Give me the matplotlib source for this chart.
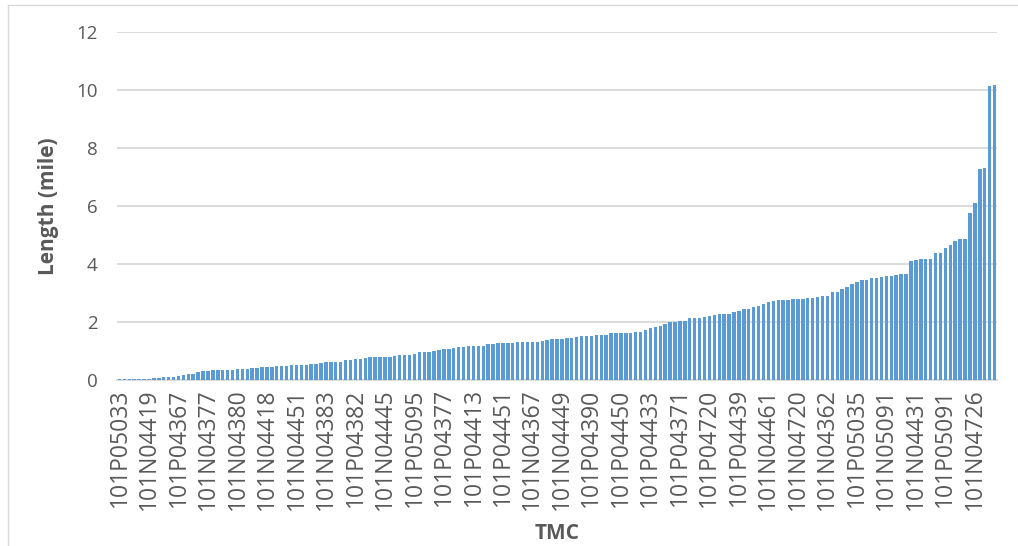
import numpy as np
import matplotlib
matplotlib.use("Agg")
import matplotlib.pyplot as plt
from matplotlib.lines import Line2D

# Segment lengths (mile), sorted ascending, one bar per TMC
LENGTHS = [
    0.02, 0.02, 0.02, 0.03, 0.03, 0.03, 0.05, 0.08, 0.08, 0.09,
    0.10, 0.10, 0.14, 0.16, 0.20, 0.20, 0.26, 0.31, 0.32, 0.33,
    0.34, 0.36, 0.36, 0.36, 0.37, 0.38, 0.39, 0.41, 0.41, 0.45,
    0.45, 0.45, 0.47, 0.49, 0.49, 0.51, 0.51, 0.51, 0.51, 0.54,
    0.55, 0.59, 0.61, 0.61, 0.61, 0.63, 0.68, 0.69, 0.71, 0.72,
    0.75, 0.78, 0.78, 0.79, 0.80, 0.80, 0.82, 0.85, 0.85, 0.85,
    0.89, 0.95, 0.95, 0.98, 0.99, 1.02, 1.08, 1.08, 1.10, 1.13,
    1.15, 1.16, 1.17, 1.17, 1.17, 1.23, 1.24, 1.26, 1.26, 1.26,
    1.26, 1.30, 1.31, 1.32, 1.32, 1.32, 1.36, 1.38, 1.40, 1.43,
    1.43, 1.44, 1.45, 1.48, 1.51, 1.52, 1.53, 1.55, 1.56, 1.56,
    1.61, 1.61, 1.62, 1.63, 1.63, 1.66, 1.67, 1.72, 1.78, 1.82,
    1.85, 1.94, 2.00, 2.01, 2.03, 2.03, 2.15, 2.15, 2.15, 2.16,
    2.22, 2.25, 2.27, 2.27, 2.27, 2.34, 2.39, 2.44, 2.45, 2.53,
    2.54, 2.61, 2.69, 2.72, 2.77, 2.77, 2.77, 2.81, 2.81, 2.81,
    2.82, 2.82, 2.87, 2.88, 2.90, 3.03, 3.04, 3.14, 3.19, 3.32,
    3.38, 3.45, 3.46, 3.51, 3.51, 3.55, 3.57, 3.57, 3.61, 3.66,
    3.66, 4.10, 4.13, 4.16, 4.18, 4.18, 4.37, 4.39, 4.55, 4.64,
    4.78, 4.87, 4.87, 5.75, 6.11, 7.29, 7.31, 10.15, 10.17,
]

# TMC codes shown on the axis (every 6th bar)
TICK_LABELS = [
    "101P05033", "101N04419", "101P04367", "101N04377", "101N04380",
    "101N04418", "101N04451", "101N04383", "101P04382", "101N04445",
    "101P05095", "101P04377", "101P04413", "101P04451", "101N04367",
    "101N04449", "101P04390", "101P04450", "101P04433", "101P04371",
    "101P04720", "101P04439", "101N04461", "101N04720", "101N04362",
    "101P05035", "101N05091", "101N04431", "101P05091", "101N04726",
]
TICK_STEP = 6

TEXT = "#595959"
GRID = "#D9D9D9"
BAR = "#5B9BD5"

plt.rcParams["font.family"] = ["Open Sans", "DejaVu Sans"]

fig = plt.figure(figsize=(10.18, 5.46), dpi=100)
ax = fig.add_axes([117 / 1018, 1 - 380 / 546, 880 / 1018, 348 / 546])

x = np.arange(len(LENGTHS))
ax.bar(x, LENGTHS, width=0.7, color=BAR, zorder=3)

ax.set_xlim(-0.5, len(LENGTHS) - 0.5)
ax.set_ylim(0, 12)
ax.set_yticks(np.arange(0, 13, 2))
ax.yaxis.grid(True, color=GRID, lw=1.3, zorder=0)
ax.set_axisbelow(True)

ticks = x[::TICK_STEP][:len(TICK_LABELS)]
ax.set_xticks(ticks)
ax.set_xticklabels(TICK_LABELS, rotation=90, va="top", ha="center")

ax.tick_params(axis="both", length=0, colors=TEXT)
ax.tick_params(axis="x", labelsize=16.5, pad=6)
ax.tick_params(axis="y", labelsize=13.5, pad=14)

for s in ("top", "right", "left"):
    ax.spines[s].set_visible(False)
ax.spines["bottom"].set_color(GRID)
ax.spines["bottom"].set_linewidth(1.3)

ax.set_ylabel("Length (mile)", fontsize=15, fontweight="bold", color=TEXT,
              labelpad=12)
ax.set_xlabel("TMC", fontsize=15, fontweight="bold", color=TEXT, labelpad=9)

# chart-area border (left and top edges visible in the picture)
fig.add_artist(Line2D([8 / 1018, 8 / 1018], [0, 1 - 5 / 546],
                      transform=fig.transFigure, color=GRID, lw=1))
fig.add_artist(Line2D([8 / 1018, 1], [1 - 5 / 546, 1 - 5 / 546],
                      transform=fig.transFigure, color=GRID, lw=1))

fig.savefig("out.png", dpi=100)
